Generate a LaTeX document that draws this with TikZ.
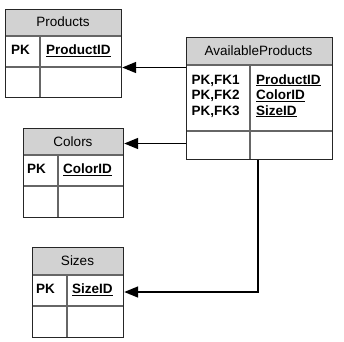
\documentclass[tikz,border=0pt]{standalone}
\usepackage{fontspec}
\setmainfont{Liberation Sans}
\usetikzlibrary{arrows.meta}
\begin{document}
\begin{tikzpicture}[x=1pt,y=-1pt,
  tbl/.style={draw=black!85,line width=1.2pt,inner sep=0pt,anchor=north west},
  hdr/.style={fill=gray!35},
  sep/.style={draw=black!60,line width=1.2pt},
  txt/.style={inner sep=0pt,font=\fontsize{13.5}{15.5}\selectfont},
  hdrtxt/.style={txt,anchor=base},
  keytxt/.style={txt,anchor=base west,font=\fontsize{13.5}{15.5}\selectfont\bfseries},
  conn/.style={draw=black,line width=1.6pt},
  arr/.style={conn,-{Triangle[length=14pt,width=11pt]}}]
\useasboundingbox (0,0) rectangle (344,341);
% Products
\fill[hdr] (5,9) rectangle (121,36);
\draw[sep] (5,36) -- (121,36) (5,67) -- (121,67) (40,36) -- (40,97);
\node[tbl,minimum width=116pt,minimum height=88pt] (prod) at (5,9) {};
\node[hdrtxt] (prodt) at (63,26.7) {Products};
\node[keytxt] (prodpk) at (11,54.3) {PK};
\node[keytxt] (prodid) at (46,54.3) {\underline{ProductID}};
% AvailableProducts
\fill[hdr] (186,37) rectangle (332,65);
\draw[sep] (186,65) -- (332,65) (186,131) -- (332,131) (250,65) -- (250,159);
\node[tbl,minimum width=146pt,minimum height=122pt] (ap) at (186,37) {};
\node[hdrtxt] (apt) at (258.5,55) {AvailableProducts};
\node[keytxt] (apk1) at (191.5,84) {PK,FK1};
\node[keytxt] (apk2) at (191.5,99.5) {PK,FK2};
\node[keytxt] (apk3) at (191.5,115) {PK,FK3};
\node[keytxt] (apid1) at (256,84) {\underline{ProductID}};
\node[keytxt] (apid2) at (256,99.5) {\underline{ColorID}};
\node[keytxt] (apid3) at (256,115) {\underline{SizeID}};
% Colors
\fill[hdr] (23,128) rectangle (123,155);
\draw[sep] (23,155) -- (123,155) (23,186) -- (123,186) (58,155) -- (58,217);
\node[tbl,minimum width=100pt,minimum height=89pt] (col) at (23,128) {};
\node[hdrtxt] (colt) at (73,146) {Colors};
\node[keytxt] (colpk) at (27,173.3) {PK};
\node[keytxt] (colid) at (63,173.3) {\underline{ColorID}};
% Sizes
\fill[hdr] (32,247) rectangle (123,275);
\draw[sep] (32,275) -- (123,275) (32,306) -- (123,306) (67,275) -- (67,337);
\node[tbl,minimum width=91pt,minimum height=90pt] (siz) at (32,247) {};
\node[hdrtxt] (sizt) at (77.5,265.7) {Sizes};
\node[keytxt] (sizpk) at (36,293.3) {PK};
\node[keytxt] (sizid) at (72,293.3) {\underline{SizeID}};
% Connectors
\coordinate (bend) at (258,292);
\draw[arr] (ap.west |- 0,67.5) -- (prod.east |- 0,67.5);
\draw[arr] (ap.west |- 0,143.5) -- (col.east |- 0,143.5);
\draw[arr] (ap.south -| bend) -- (bend) -- (siz.east |- bend);
\end{tikzpicture}
\end{document}
